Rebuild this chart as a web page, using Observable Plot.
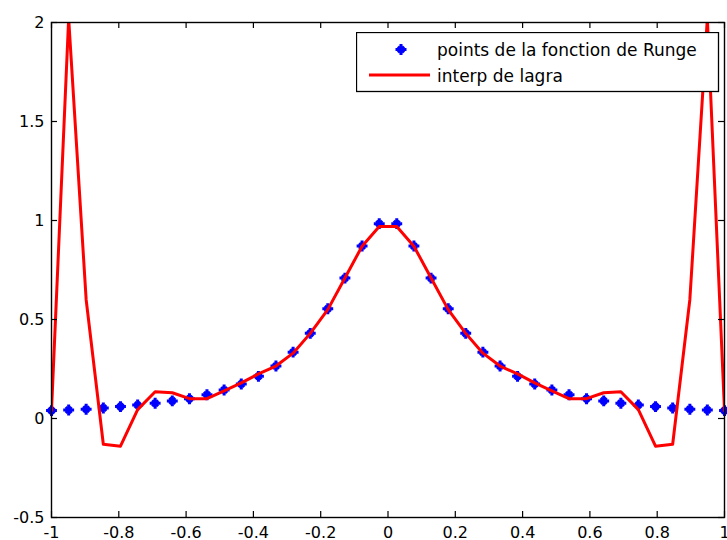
<!DOCTYPE html>
<html>
<head>
<meta charset="utf-8">
<script src="https://cdn.jsdelivr.net/npm/d3@7"></script>
<script src="https://cdn.jsdelivr.net/npm/@observablehq/plot@0.6"></script>
<style>
  html, body { margin: 0; padding: 0; background: white; }
  #wrap { position: relative; width: 727px; height: 540px; overflow: hidden; }
  #legend { position: absolute; left: 356px; top: 32px; }
</style>
</head>
<body>
<div id="wrap"></div>
<script>
// x positions of the sample points (40 equally spaced nodes in [-1, 1])
const xs = [-1, -0.949, -0.897, -0.846, -0.795, -0.744, -0.692, -0.641, -0.590, -0.538,
            -0.487, -0.436, -0.385, -0.333, -0.282, -0.231, -0.179, -0.128, -0.077, -0.026,
             0.026,  0.077,  0.128,  0.179,  0.231,  0.282,  0.333,  0.385,  0.436,  0.487,
             0.538,  0.590,  0.641,  0.692,  0.744,  0.795,  0.846,  0.897,  0.949,  1];
// "points de la fonction de Runge"
const rungePoints = [0.04, 0.043, 0.047, 0.053, 0.06, 0.068, 0.077, 0.089, 0.10, 0.12,
                     0.144, 0.174, 0.213, 0.265, 0.335, 0.43, 0.554, 0.709, 0.871, 0.984,
                     0.984, 0.871, 0.709, 0.554, 0.43, 0.335, 0.265, 0.213, 0.174, 0.144,
                     0.12, 0.10, 0.089, 0.077, 0.068, 0.06, 0.053, 0.047, 0.043, 0.04];
// "interp de lagra"
const lagrange = [0.04, 2.02, 0.60, -0.13, -0.14, 0.045, 0.135, 0.13, 0.10, 0.10,
                  0.14, 0.18, 0.225, 0.265, 0.33, 0.43, 0.55, 0.71, 0.87, 0.97,
                  0.97, 0.87, 0.71, 0.55, 0.43, 0.33, 0.265, 0.225, 0.18, 0.14,
                  0.10, 0.10, 0.13, 0.135, 0.045, -0.14, -0.13, 0.60, 2.02, 0.04];
const xTicks = [-1, -0.8, -0.6, -0.4, -0.2, 0, 0.2, 0.4, 0.6, 0.8, 1];
const yTicks = [-0.5, 0, 0.5, 1, 1.5, 2];
const legendLabels = ["points de la fonction de Runge", "interp de lagra"];

const data = xs.map((x, i) => ({x, runge: rungePoints[i], lag: lagrange[i]}));

const W = 727, H = 540, mL = 51, mR = 3, mT = 22, mB = 23;
const plotH = H - mT - mB, plotW = W - mL - mR, tk = 6;
const BLUE = "#0000ff", RED = "#ff0000";

const chart = Plot.plot({
  width: W, height: H,
  marginLeft: mL, marginRight: mR, marginTop: mT, marginBottom: mB,
  style: {fontFamily: "'DejaVu Sans', sans-serif", fontSize: "16px", background: "white", color: "black", overflow: "visible"},
  x: {domain: [-1, 1], label: null},
  y: {domain: [-0.5, 2], label: null},
  marks: [
    Plot.dot(data, {x: "x", y: "runge", symbol: "times", r: 2.8, fill: "none", stroke: BLUE, strokeWidth: 3}),
    Plot.dot(data, {x: "x", y: "runge", symbol: "plus", r: 3.6, fill: "none", stroke: BLUE, strokeWidth: 3}),
    Plot.line(data, {x: "x", y: "lag", stroke: RED, strokeWidth: 3, clip: true}),
    Plot.tickX(xTicks, {x: d => d, insetTop: plotH - tk, stroke: "black", strokeWidth: 1.2}),
    Plot.tickX(xTicks, {x: d => d, insetBottom: plotH - tk, stroke: "black", strokeWidth: 1.2}),
    Plot.tickY(yTicks, {y: d => d, insetRight: plotW - tk, stroke: "black", strokeWidth: 1.2}),
    Plot.tickY(yTicks, {y: d => d, insetLeft: plotW - tk, stroke: "black", strokeWidth: 1.2}),
    Plot.frame({stroke: "black", strokeWidth: 1.4}),
    Plot.axisX({ticks: xTicks, tickSize: 0, tickPadding: 9, tickFormat: d => String(d), fill: "black"}),
    Plot.axisY({ticks: yTicks, tickSize: 0, tickPadding: 7, tickFormat: d => String(d), fill: "black"})
  ]
});
const wrap = document.getElementById("wrap");
wrap.appendChild(chart);

// Legend (inside the axes, top right)
const lg = d3.select(wrap).append("svg").attr("id", "legend")
  .attr("width", 364).attr("height", 61)
  .style("font-family", "'DejaVu Sans', sans-serif").style("font-size", "17px");
lg.append("rect").attr("x", 0.5).attr("y", 0.5).attr("width", 362).attr("height", 59)
  .attr("fill", "white").attr("stroke", "black").attr("stroke-width", 1.3);
const m = lg.append("g").attr("transform", "translate(45,17.5)")
  .attr("stroke", BLUE).attr("stroke-width", 3).attr("fill", "none");
m.append("path").attr("d", "M-5.5,0H5.5M0,-5.5V5.5");
m.append("path").attr("d", "M-3,-3L3,3M-3,3L3,-3");
lg.append("line").attr("x1", 13).attr("x2", 74).attr("y1", 43).attr("y2", 43)
  .attr("stroke", RED).attr("stroke-width", 3);
lg.append("text").attr("x", 81).attr("y", 23.5).text(legendLabels[0]);
lg.append("text").attr("x", 81).attr("y", 50).text(legendLabels[1]);
</script>
</body>
</html>
